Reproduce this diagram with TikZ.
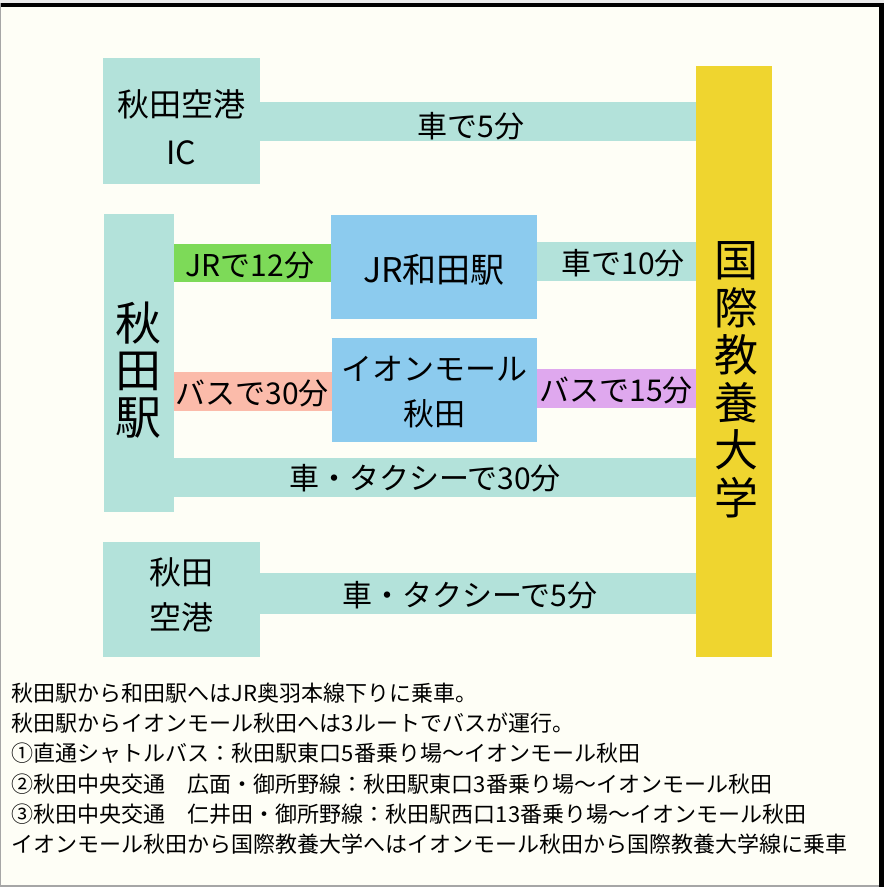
\documentclass[tikz,border=0pt]{standalone}
\usepackage{fontspec}
\setmainfont{Noto Sans CJK JP}
\definecolor{bgc}{HTML}{FEFEF6}
\definecolor{tealc}{HTML}{B3E2DA}
\definecolor{yellowc}{HTML}{EFD52F}
\definecolor{bluec}{HTML}{8CCBEE}
\definecolor{greenc}{HTML}{7DDA58}
\definecolor{salmonc}{HTML}{FBBBAA}
\definecolor{purplec}{HTML}{DFA8EE}
\tikzset{
  blk/.style={rectangle, inner sep=0pt, outer sep=0pt},
  txt/.style={inner sep=0pt, outer sep=0pt, align=center},
  lbl/.style={inner sep=0pt, outer sep=0pt, font=\fontsize{30}{36}\selectfont},
  note/.style={inner sep=0pt, outer sep=0pt, anchor=west, font=\fontsize{22}{26}\selectfont},
}
\begin{document}
\begin{tikzpicture}[x=1pt,y=-1pt]
% background and frame
\fill[bgc] (0,0) rectangle (884,887);
\useasboundingbox (0,0) rectangle (884,887);
\fill[black!8] (0,0) rectangle (884,3);
\fill[black] (0,3) rectangle (884,6.5);
\fill[black] (879,3) rectangle (884,887);
\fill[black!35] (0,3) rectangle (1.3,887);
\fill[black!35] (0,885) rectangle (879,887);

% main boxes
\node[blk, fill=tealc, minimum width=157pt, minimum height=126pt] (ic) at (181.5,121) {};
\node[blk, fill=yellowc, minimum width=76pt, minimum height=591pt] (univ) at (734,361.5) {};
\node[blk, fill=tealc, minimum width=70pt, minimum height=298pt] (akita) at (139,363) {};
\node[blk, fill=bluec, minimum width=206pt, minimum height=104pt] (wada) at (434,267) {};
\node[blk, fill=bluec, minimum width=205pt, minimum height=104pt] (aeon) at (434.5,390) {};
\node[blk, fill=tealc, minimum width=157pt, minimum height=115pt] (airport) at (181.5,599.5) {};

% connector bands
\fill[tealc] (ic.east |- 0,102) rectangle (univ.west |- 0,141);
\fill[greenc] (akita.east |- 0,244) rectangle (wada.west |- 0,282);
\fill[tealc] (wada.east |- 0,242) rectangle (univ.west |- 0,281);
\fill[salmonc] (akita.east |- 0,372) rectangle (aeon.west |- 0,411);
\fill[purplec] (aeon.east |- 0,369) rectangle (univ.west |- 0,408);
\fill[tealc] (akita.east |- 0,458) rectangle (univ.west |- 0,497);
\fill[tealc] (airport.east |- 0,573) rectangle (univ.west |- 0,614);

% box texts
\node[txt, font=\fontsize{32}{48}\selectfont] (icT) at (181.5,127) {秋田空港\\IC};
\node[txt, font=\fontsize{46}{47}\selectfont] (akitaT) at (138,370) {秋\\田\\駅};
\node[txt, font=\fontsize{44}{47.5}\selectfont] (univT) at (736,380) {国\\際\\教\\養\\大\\学};
\node[txt, font=\fontsize{34}{40}\selectfont] (wadaT) at (434,270) {JR和田駅};
\node[txt, font=\fontsize{31}{45}\selectfont] (aeonT) at (434,392) {イオンモール\\秋田};
\node[txt, font=\fontsize{32}{45}\selectfont] (airportT) at (181.5,595) {秋田\\空港};

% connector labels
\node[lbl] (l1) at (471,126) {車で5分};
\node[lbl] (l2) at (250,265) {JRで12分};
\node[lbl] (l3) at (623,263) {車で10分};
\node[lbl] (l4) at (252,393) {バスで30分};
\node[lbl] (l5) at (616,390) {バスで15分};
\node[lbl] (l6) at (425,478) {車・タクシーで30分};
\node[lbl] (l7) at (470,595) {車・タクシーで5分};

% notes
\node[note] (n1) at (12,693) {秋田駅から和田駅へはJR奥羽本線下りに乗車。};
\node[note] (n2) at (12,723) {秋田駅からイオンモール秋田へは3ルートでバスが運行。};
\node[note] (n3) at (12,753) {①直通シャトルバス：秋田駅東口5番乗り場〜イオンモール秋田};
\node[note] (n4) at (12,784) {②秋田中央交通　広面・御所野線：秋田駅東口3番乗り場〜イオンモール秋田};
\node[note] (n5) at (12,814) {③秋田中央交通　仁井田・御所野線：秋田駅西口13番乗り場〜イオンモール秋田};
\node[note] (n6) at (12,844) {イオンモール秋田から国際教養大学へはイオンモール秋田から国際教養大学線に乗車};
\end{tikzpicture}
\end{document}
